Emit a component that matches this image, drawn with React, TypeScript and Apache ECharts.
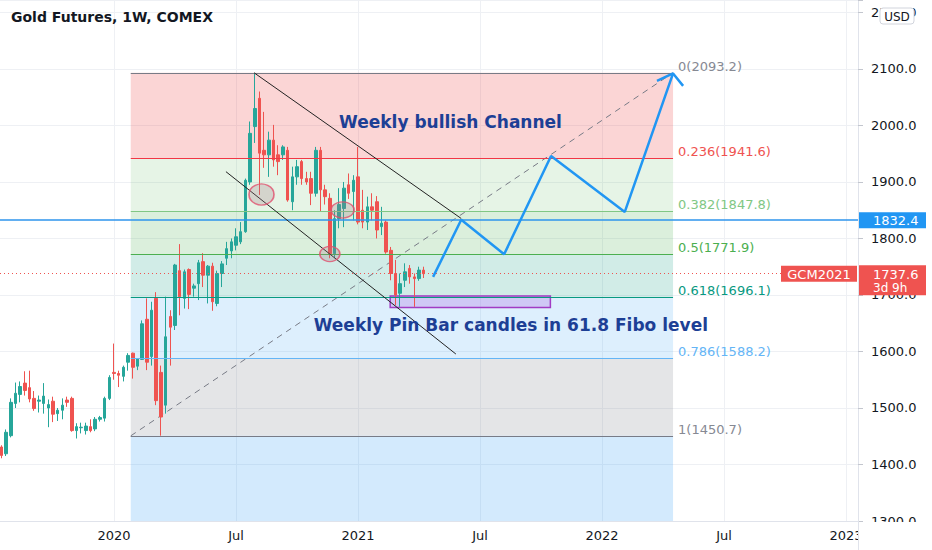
import React, { useEffect, useRef } from 'react';
import * as echarts from 'echarts';

const DAY = 86400000;
const ut = (y: number, m: number, d: number) => Date.UTC(y, m - 1, d);

// ---- weekly candles (GC1!, 1W), first week starting 2019-07-22 ----
const firstWeek = ut(2019, 7, 22);
const opens = [
  1431, 1419, 1451, 1508, 1524, 1544, 1536, 1517, 1512, 1508, 1500, 1512, 1490, 1496, 1514, 1517, 1460, 1465, 1460, 1467,
  1463, 1480, 1482, 1517, 1563, 1561, 1556, 1581, 1597, 1574, 1586, 1657, 1591, 1694, 1563, 1505, 1662, 1646, 1743, 1694,
  1745, 1712, 1720, 1759, 1735, 1751, 1685, 1738, 1765, 1778, 1788, 1794, 1812, 1900, 1998, 2048, 1956, 1948, 1974, 1948,
  1948, 1956, 1865, 1909, 1936, 1906, 1906, 1880, 1956, 1886, 1871, 1773, 1835, 1853, 1895, 1883, 1909, 1850, 1829, 1856,
  1865, 1821, 1829, 1779, 1738, 1703, 1726, 1747, 1732, 1729, 1744,
];
const closes = [
  1416, 1457, 1510, 1526, 1538, 1531, 1516, 1499, 1514, 1521, 1506, 1489, 1496, 1505, 1510, 1460, 1467, 1466, 1468, 1460,
  1480, 1483, 1517, 1554, 1561, 1558, 1572, 1593, 1572, 1587, 1649, 1581, 1673, 1513, 1484, 1626, 1643, 1753, 1697, 1741,
  1701, 1716, 1757, 1735, 1751, 1688, 1738, 1755, 1782, 1794, 1803, 1812, 1903, 1986, 2030, 1951, 1948, 1974, 1939, 1936,
  1962, 1868, 1909, 1927, 1906, 1900, 1880, 1956, 1886, 1874, 1773, 1835, 1860, 1889, 1880, 1903, 1829, 1829, 1856, 1850,
  1815, 1827, 1776, 1738, 1700, 1720, 1741, 1732, 1729, 1744, 1737.6,
];
const lows = [
  1411, 1415, 1448, 1500, 1510, 1522, 1510, 1495, 1492, 1490, 1466, 1475, 1477, 1480, 1502, 1458, 1446, 1455, 1453, 1457,
  1459, 1476, 1476, 1514, 1550, 1537, 1547, 1566, 1552, 1567, 1585, 1567, 1575, 1505, 1451, 1490, 1575, 1638, 1664, 1676,
  1675, 1697, 1691, 1714, 1685, 1672, 1680, 1714, 1753, 1765, 1779, 1790, 1810, 1895, 1969, 1877, 1925, 1909, 1927, 1912,
  1939, 1865, 1850, 1895, 1895, 1895, 1859, 1874, 1847, 1860, 1765, 1765, 1818, 1820, 1870, 1832, 1825, 1818, 1815, 1832,
  1800, 1806, 1773, 1726, 1682, 1679, 1714, 1720, 1679, 1725, 1730,
];
const highs = [
  1434, 1462, 1517, 1545, 1547, 1565, 1566, 1530, 1522, 1544, 1515, 1520, 1500, 1517, 1520, 1520, 1473, 1474, 1474, 1480,
  1484, 1486, 1520, 1558, 1614, 1566, 1575, 1597, 1598, 1588, 1655, 1694, 1688, 1705, 1575, 1697, 1673, 1755, 1790, 1745,
  1747, 1720, 1762, 1774, 1753, 1757, 1743, 1760, 1794, 1800, 1818, 1829, 1906, 2007, 2093, 2060, 2024, 1989, 2001, 1965,
  1965, 1962, 1927, 1939, 1939, 1918, 1918, 1962, 1962, 1895, 1880, 1850, 1889, 1900, 1915, 1912, 1962, 1886, 1874, 1880,
  1875, 1856, 1832, 1785, 1762, 1738, 1756, 1753, 1738, 1750, 1750,
];
const weekStarts = opens.map((_, i) => firstWeek + i * 7 * DAY);

// ---- time axis labels ----
const axisLabelDates = [ut(2020, 1, 6), ut(2020, 7, 6), ut(2021, 1, 4), ut(2021, 7, 5), ut(2022, 1, 3), ut(2022, 7, 4), ut(2023, 1, 2)];
const axisLabelTexts = ['2020', 'Jul', '2021', 'Jul', '2022', 'Jul', '2023'];

// ---- Fibonacci retracement ----
const fibStart = ut(2020, 1, 31);
const fibEnd = ut(2022, 4, 19);
const fibLevels = [0, 0.236, 0.382, 0.5, 0.618, 0.786, 1];
const fibPrices = [2093.2, 1941.6, 1847.8, 1771.9, 1696.1, 1588.2, 1450.7];
const fibExtensionPrice = 1053.6; // 1.618 level (band below 1)

// ---- drawings ----
const channelUpper = [[ut(2020, 8, 2), 2093.2], [ut(2021, 6, 7), 1835.3]];
const channelLower = [[ut(2020, 6, 21), 1918.2], [ut(2021, 5, 30), 1595.5]];
const projectionPath = [
  [ut(2021, 4, 26), 1732], [ut(2021, 6, 7), 1833], [ut(2021, 8, 10), 1772],
  [ut(2021, 10, 19), 1946], [ut(2022, 2, 6), 1847], [ut(2022, 4, 19), 2092],
];
const arrowHead = [[ut(2022, 3, 26), 2079], [ut(2022, 4, 19), 2092], [ut(2022, 5, 4), 2070]];
const ellipseCenters = [[ut(2020, 8, 13), 1877.8], [ut(2020, 12, 12), 1850.4], [ut(2020, 11, 23), 1772.5]];
const pinBox = { from: ut(2021, 2, 21), to: ut(2021, 10, 18), top: 1698, bottom: 1678 };
const resistanceLevel = 1832.4;
const currentPrice = 1737.6;
const annotationTexts = [
  { text: 'Weekly bullish Channel', at: [ut(2021, 5, 22), 2006] },
  { text: 'Weekly Pin Bar candles in 61.8 Fibo level', at: [ut(2021, 8, 20), 1647] },
];

// ---- styles ----
const FONT = 'DejaVu Sans';
const fibLineColors = ['#787b86', '#f23645', '#81c784', '#4caf50', '#089981', '#64b5f6', '#787b86'];
const fibLabelColors = ['#868993', '#ef5350', '#81c784', '#4caf50', '#089981', '#64b5f6', '#868993'];
const fibBandColors = [
  'rgba(240,80,80,0.24)', 'rgba(76,175,80,0.14)', 'rgba(76,175,80,0.2)', 'rgba(8,153,129,0.19)',
  'rgba(100,181,246,0.22)', 'rgba(120,123,134,0.2)', 'rgba(33,150,243,0.2)',
];
const ellipseSizes = [[25, 21], [23, 16], [20, 15]];

const xMin = ut(2021, 1, 4) - 534.07 * DAY;
const xMax = ut(2021, 1, 4) + 745.9 * DAY;

export default function App() {
  const ref = useRef<HTMLDivElement>(null);
  useEffect(() => {
    const chart = echarts.init(ref.current!, undefined, { renderer: 'svg' });
    const bandLevels = [...fibPrices, fibExtensionPrice];
    const option: any = {
      animation: false,
      backgroundColor: '#ffffff',
      grid: { left: 0, right: 74, top: 0, bottom: 29 },
      xAxis: {
        type: 'value',
        min: xMin,
        max: xMax,
        axisLine: { show: true, lineStyle: { color: '#e0e3eb', width: 1 } },
        axisTick: { show: false, customValues: axisLabelDates },
        axisLabel: {
          customValues: axisLabelDates,
          formatter: (v: number) => {
            const i = axisLabelDates.findIndex((d) => Math.abs(d - v) < DAY);
            return i >= 0 ? axisLabelTexts[i] : '';
          },
          color: '#131722',
          fontSize: 13,
          fontFamily: FONT,
          margin: 8,
        },
        splitLine: { show: true, lineStyle: { color: '#eef0f4', width: 1 } },
      },
      yAxis: {
        type: 'value',
        position: 'right',
        min: 1300,
        max: 2222,
        interval: 100,
        axisLine: { show: true, lineStyle: { color: '#e0e3eb' } },
        axisTick: { show: true, length: 5, lineStyle: { color: '#c3c6ce' } },
        axisLabel: {
          formatter: (v: number) => (Math.abs(v % 100) < 1e-6 ? v.toFixed(1) : ''),
          color: '#131722',
          fontSize: 13,
          fontFamily: FONT,
          margin: 13,
        },
        splitLine: { show: true, lineStyle: { color: '#eef0f4', width: 1 } },
      },
      series: [
        {
          // fib bands + dashed trend line
          type: 'line',
          z: 1,
          silent: true,
          symbol: 'none',
          data: [[fibStart, fibPrices[6]], [fibEnd, fibPrices[0]]],
          lineStyle: { color: '#787b86', width: 1, type: [6, 5] },
          markArea: {
            silent: true,
            data: bandLevels.slice(0, -1).map((p, i) => [
              { coord: [fibStart, p], itemStyle: { color: fibBandColors[i] } },
              { coord: [fibEnd, bandLevels[i + 1]] },
            ]),
          },
        },
        {
          // fib level lines + labels
          type: 'line',
          z: 2,
          silent: true,
          data: [],
          markLine: {
            silent: true,
            symbol: ['none', 'none'],
            data: fibPrices.map((p, i) => [
              {
                coord: [fibStart, p],
                lineStyle: { color: fibLineColors[i], width: 1, type: 'solid' },
                label: {
                  show: true,
                  position: 'end',
                  distance: 5,
                  verticalAlign: 'bottom',
                  formatter: `${fibLevels[i]}(${p.toFixed(1)})`,
                  color: fibLabelColors[i],
                  fontSize: 13,
                  fontFamily: FONT,
                },
              },
              { coord: [fibEnd, p] },
            ]),
          },
        },
        {
          type: 'candlestick',
          z: 3,
          barWidth: 3,
          data: weekStarts.map((t, i) => [t, opens[i], closes[i], lows[i], highs[i]]),
          itemStyle: {
            color: '#26a69a',
            color0: '#ef5350',
            borderColor: '#26a69a',
            borderColor0: '#ef5350',
            borderWidth: 1,
          },
        },
        {
          // horizontal levels & pin bar box
          type: 'line',
          z: 4,
          silent: true,
          data: [],
          markLine: {
            silent: true,
            symbol: ['none', 'none'],
            label: { show: false },
            data: [
              { yAxis: resistanceLevel, lineStyle: { color: '#2e94ec', width: 1.5, type: 'solid' } },
              { yAxis: currentPrice, lineStyle: { color: '#ef5350', width: 1, type: [1, 3] } },
            ],
          },
          markArea: {
            silent: true,
            data: [
              [
                {
                  coord: [pinBox.from, pinBox.top],
                  itemStyle: { color: 'rgba(180,120,230,0.33)', borderColor: '#a13bc4', borderWidth: 1.5 },
                },
                { coord: [pinBox.to, pinBox.bottom] },
              ],
            ],
          },
        },
        {
          type: 'line',
          z: 5,
          silent: true,
          symbol: 'none',
          data: channelUpper,
          lineStyle: { color: '#222222', width: 1 },
        },
        {
          type: 'line',
          z: 5,
          silent: true,
          symbol: 'none',
          data: channelLower,
          lineStyle: { color: '#222222', width: 1 },
        },
        {
          type: 'scatter',
          z: 5,
          silent: true,
          symbol: 'circle',
          symbolSize: (_v: any, p: any) => ellipseSizes[p.dataIndex],
          data: ellipseCenters,
          itemStyle: { color: 'rgba(165,120,135,0.33)', borderColor: '#e0506e', borderWidth: 1.5 },
        },
        {
          type: 'line',
          z: 6,
          silent: true,
          symbol: 'none',
          data: projectionPath,
          lineStyle: { color: '#2196f3', width: 2.5 },
        },
        {
          type: 'line',
          z: 6,
          silent: true,
          symbol: 'none',
          data: arrowHead,
          lineStyle: { color: '#2196f3', width: 2.5 },
        },
      ],
    };
    chart.setOption(option);

    const yRes = chart.convertToPixel({ yAxisIndex: 0 }, resistanceLevel) as number;
    const yCur = chart.convertToPixel({ yAxisIndex: 0 }, currentPrice) as number;
    const txt = (text: string, x: number, y: number, font: string, fill: string, align = 'left', z = 60) => ({
      type: 'text',
      x,
      y,
      z,
      silent: true,
      style: { text, font, fill, align, verticalAlign: 'middle', textAlign: align, textVerticalAlign: 'middle' },
    });
    const graphics: any[] = [
      { type: 'rect', z: 40, silent: true, shape: { x: 858, y: 522, width: 80, height: 30 }, style: { fill: '#ffffff' } },
      { type: 'line', z: 41, silent: true, shape: { x1: 858.5, y1: 521, x2: 858.5, y2: 550 }, style: { stroke: '#e0e3eb', lineWidth: 1 } },
      txt('Gold Futures, 1W, COMEX', 11, 17, `bold 14px "${FONT}"`, '#131722'),
      {
        type: 'rect', z: 50, silent: true,
        shape: { x: 880, y: 8, width: 34, height: 16, r: 3 },
        style: { fill: '#ffffff', stroke: '#d1d4dc', lineWidth: 1 },
      },
      txt('USD', 897, 16.5, `12px "${FONT}"`, '#131722', 'center'),
      { type: 'rect', z: 50, silent: true, shape: { x: 859, y: yRes - 8, width: 67, height: 16 }, style: { fill: '#2196f3' } },
      txt(resistanceLevel.toFixed(1), 873, yRes + 0.5, `13px "${FONT}"`, '#ffffff'),
      { type: 'rect', z: 50, silent: true, shape: { x: 781, y: yCur - 8, width: 76, height: 16 }, style: { fill: '#ef5350' } },
      txt('GCM2021', 819, yCur + 0.5, `13px "${FONT}"`, '#ffffff', 'center'),
      { type: 'rect', z: 50, silent: true, shape: { x: 859, y: yCur - 8.5, width: 67, height: 30 }, style: { fill: '#ef5350' } },
      txt(currentPrice.toFixed(1), 873, yCur + 0.5, `13px "${FONT}"`, '#ffffff'),
      txt('3d 9h', 873, yCur + 14, `12px "${FONT}"`, '#ffffff'),
    ];
    annotationTexts.forEach((a) => {
      const pt = chart.convertToPixel({ gridIndex: 0 }, a.at) as number[];
      graphics.push(txt(a.text, pt[0], pt[1], `bold 17px "${FONT}"`, '#1d3f95', 'center'));
    });
    chart.setOption({ graphic: graphics });

    return () => chart.dispose();
  }, []);
  return (
    <div
      ref={ref}
      style={{ position: 'fixed', left: 0, top: 0, width: 932, height: 550, background: '#ffffff' }}
    />
  );
}
